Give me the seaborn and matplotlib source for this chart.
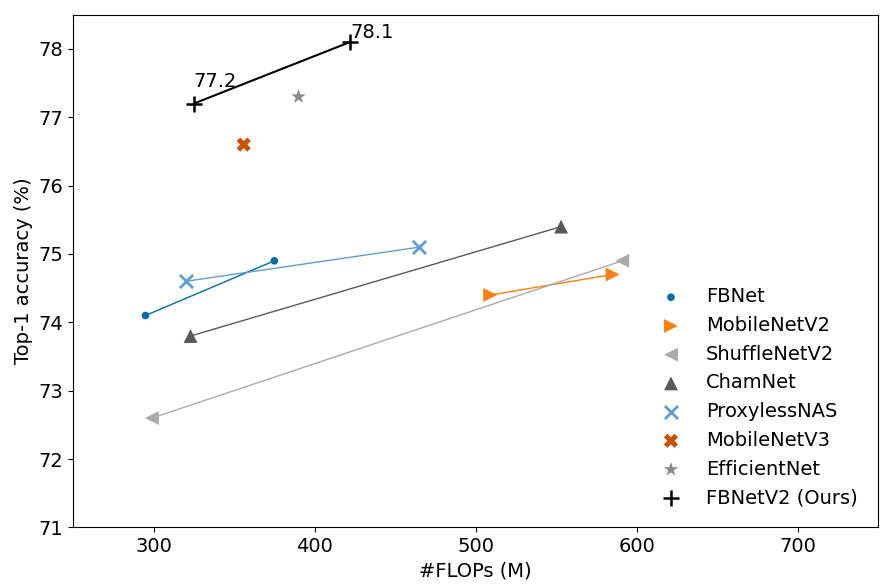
import matplotlib
matplotlib.use("Agg")
import matplotlib.pyplot as plt
import seaborn as sns

# FLOPs (M) and top-1 accuracy (%) per model family
fbnet_flops = [295, 375]
fbnet_acc = [74.1, 74.9]
mbv2_flops = [509, 585]
mbv2_acc = [74.4, 74.7]
shuffle_flops = [299, 591]
shuffle_acc = [72.6, 74.9]
cham_flops = [323, 553]
cham_acc = [73.8, 75.4]
proxyless_flops = [320, 465]
proxyless_acc = [74.6, 75.1]
mbv3_flops = [356]
mbv3_acc = [76.6]
effnet_flops = [390]
effnet_acc = [77.3]
fbnetv2_flops = [325, 422]
fbnetv2_acc = [77.2, 78.1]

sns.set_style("ticks")
plt.rcParams['font.family'] = ['DejaVu Sans']
plt.rcParams.update({
    'font.size': 14,
    'text.color': 'black',
    'axes.labelcolor': 'black',
    'axes.edgecolor': 'black',
    'xtick.color': 'black',
    'ytick.color': 'black',
})

fig = plt.figure(figsize=(8.9, 5.88), dpi=100)
ax = fig.add_axes([0.082, 0.103, 0.905, 0.872])

series = [
    ("FBNet", fbnet_flops, fbnet_acc, "#006BA4", "o", 30, 0, 1.0),
    ("MobileNetV2", mbv2_flops, mbv2_acc, "#FF800E", ">", 100, 0, 1.0),
    ("ShuffleNetV2", shuffle_flops, shuffle_acc, "#ABABAB", "<", 100, 0, 1.0),
    ("ChamNet", cham_flops, cham_acc, "#595959", "^", 100, 0, 1.0),
    ("ProxylessNAS", proxyless_flops, proxyless_acc, "#5F9ED1", "x", 90, 2, 1.0),
    ("MobileNetV3", mbv3_flops, mbv3_acc, "#C85200", "X", 105, 0, 1.0),
    ("EfficientNet", effnet_flops, effnet_acc, "#898989", "*", 120, 0, 1.0),
    ("FBNetV2 (Ours)", fbnetv2_flops, fbnetv2_acc, "black", "+", 120, 1.8, 1.5),
]

for name, xs, ys, color, marker, size, mlw, lw in series:
    if len(xs) > 1:
        sns.lineplot(x=xs, y=ys, color=color, lw=lw, sort=False,
                     legend=False, ax=ax)
    if marker in ("x", "+"):
        sns.scatterplot(x=xs, y=ys, color=color, marker=marker, s=size,
                        linewidth=mlw, label=name, ax=ax, zorder=3)
    else:
        sns.scatterplot(x=xs, y=ys, color=color, marker=marker, s=size,
                        edgecolor="none", linewidth=0, label=name, ax=ax,
                        zorder=3)

ax.annotate(f"{fbnetv2_acc[0]}", (fbnetv2_flops[0], fbnetv2_acc[0]),
            xytext=(0, 12), textcoords="offset points", fontsize=14)
ax.annotate(f"{fbnetv2_acc[1]}", (fbnetv2_flops[1], fbnetv2_acc[1]),
            xytext=(0, 3), textcoords="offset points", fontsize=14)

ax.set_xlim(250, 750)
ax.set_ylim(71, 78.5)
ax.set_xticks([300, 400, 500, 600, 700])
ax.set_yticks([71, 72, 73, 74, 75, 76, 77, 78])
ax.set_xlabel("#FLOPs (M)", fontsize=14)
ax.set_ylabel("Top-1 accuracy (%)", fontsize=14)
ax.tick_params(labelsize=14)

ax.legend(loc="lower right", frameon=False, fontsize=14,
          bbox_to_anchor=(0.996, 0.005))

fig.savefig("out.png", dpi=100)
